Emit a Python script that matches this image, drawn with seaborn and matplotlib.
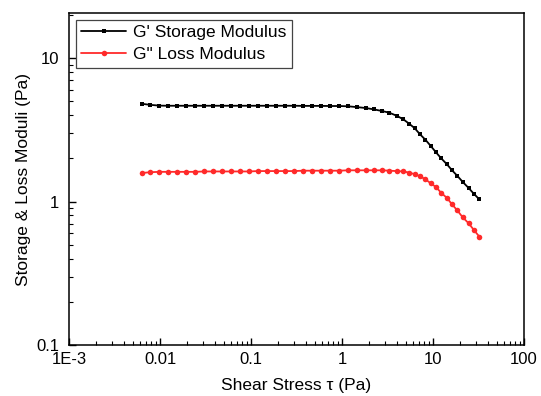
import numpy as np
import matplotlib
matplotlib.use("Agg")
import matplotlib.pyplot as plt
import seaborn as sns
from matplotlib.ticker import LogLocator, FixedLocator, FixedFormatter, NullFormatter

# shear stress (Pa), shared by both moduli
stress = [0.0063, 0.00776, 0.00982, 0.0123, 0.0155, 0.0193, 0.0243, 0.0305, 0.0383,
          0.048, 0.0603, 0.0757, 0.0951, 0.119, 0.15, 0.188, 0.236, 0.297, 0.373,
          0.468, 0.588, 0.738, 0.927, 1.16, 1.46, 1.84, 2.27, 2.77, 3.31, 3.99,
          4.72, 5.49, 6.3, 7.2, 8.23, 9.44, 10.8, 12.3, 14.2, 16.2, 18.5, 21.2,
          24.7, 28.2, 32.3]

g_storage = [4.8, 4.72, 4.66, 4.65, 4.65, 4.65, 4.65, 4.65, 4.65,
             4.65, 4.65, 4.65, 4.65, 4.65, 4.65, 4.65, 4.65, 4.65, 4.64,
             4.64, 4.64, 4.63, 4.63, 4.61, 4.55, 4.48, 4.38, 4.27, 4.16, 3.96,
             3.74, 3.48, 3.24, 2.94, 2.7, 2.44, 2.2, 2.0, 1.82, 1.65, 1.51, 1.37,
             1.24, 1.13, 1.035]

g_loss = [1.58, 1.6, 1.61, 1.61, 1.61, 1.61, 1.61, 1.62, 1.62,
          1.62, 1.62, 1.62, 1.62, 1.63, 1.63, 1.63, 1.63, 1.63, 1.64,
          1.64, 1.64, 1.64, 1.64, 1.65, 1.65, 1.65, 1.65, 1.65, 1.64, 1.63,
          1.62, 1.59, 1.55, 1.5, 1.43, 1.34, 1.26, 1.15, 1.06, 0.955, 0.867, 0.776,
          0.704, 0.632, 0.569]

x_ticks = [1e-3, 0.01, 0.1, 1, 10, 100]
x_ticklabels = ["1E-3", "0.01", "0.1", "1", "10", "100"]
y_ticks = [0.1, 1, 10]
y_ticklabels = ["0.1", "1", "10"]

sns.set_style("ticks")
plt.rcParams['font.family'] = ['Liberation Sans', 'DejaVu Sans']
plt.rcParams['xtick.direction'] = 'in'
plt.rcParams['ytick.direction'] = 'in'
plt.rcParams['text.color'] = 'black'
plt.rcParams['axes.labelcolor'] = 'black'
plt.rcParams['xtick.color'] = 'black'
plt.rcParams['ytick.color'] = 'black'

fig = plt.figure(figsize=(5.41, 3.96), dpi=100)
ax = fig.add_axes([69 / 541, 51 / 396, 455 / 541, 332 / 396])

sns.lineplot(x=stress, y=g_storage, ax=ax, color='black', marker='s', markersize=3.5,
             markeredgewidth=0, linewidth=1.3, label="G' Storage Modulus")
sns.lineplot(x=stress, y=g_loss, ax=ax, color='#FF2A2A', marker='o', markersize=4,
             markeredgewidth=0, linewidth=1.3, label='G" Loss Modulus')

ax.set_xscale('log')
ax.set_yscale('log')
ax.set_xlim(1e-3, 100)
ax.set_ylim(0.1, 20.6)

ax.xaxis.set_major_locator(FixedLocator(x_ticks))
ax.xaxis.set_major_formatter(FixedFormatter(x_ticklabels))
ax.xaxis.set_minor_locator(LogLocator(base=10, subs=np.arange(2, 10)))
ax.xaxis.set_minor_formatter(NullFormatter())
ax.yaxis.set_major_locator(FixedLocator(y_ticks))
ax.yaxis.set_major_formatter(FixedFormatter(y_ticklabels))
ax.yaxis.set_minor_locator(LogLocator(base=10, subs=np.arange(2, 10)))
ax.yaxis.set_minor_formatter(NullFormatter())

ax.tick_params(which='major', length=5, width=1, labelsize=12, top=False, right=False)
ax.tick_params(axis='x', which='major', pad=5)
ax.tick_params(axis='y', which='major', pad=7)
ax.tick_params(which='minor', length=3, width=0.8, top=False, right=False)
for s in ax.spines.values():
    s.set_linewidth(1.1)
    s.set_color('black')

ax.set_xlabel("Shear Stress \u03c4 (Pa)", fontsize=12.5, labelpad=8)
ax.set_ylabel("Storage & Loss Moduli (Pa)", fontsize=12.5, labelpad=4)

leg = ax.legend(loc='upper left', fontsize=12.5, fancybox=False, framealpha=1,
                edgecolor='#444444', handlelength=2.6, borderpad=0.3,
                labelspacing=0.4, handletextpad=0.4, borderaxespad=0.4)
leg.get_frame().set_linewidth(0.9)

fig.savefig("out.png", dpi=100)
plt.close()
